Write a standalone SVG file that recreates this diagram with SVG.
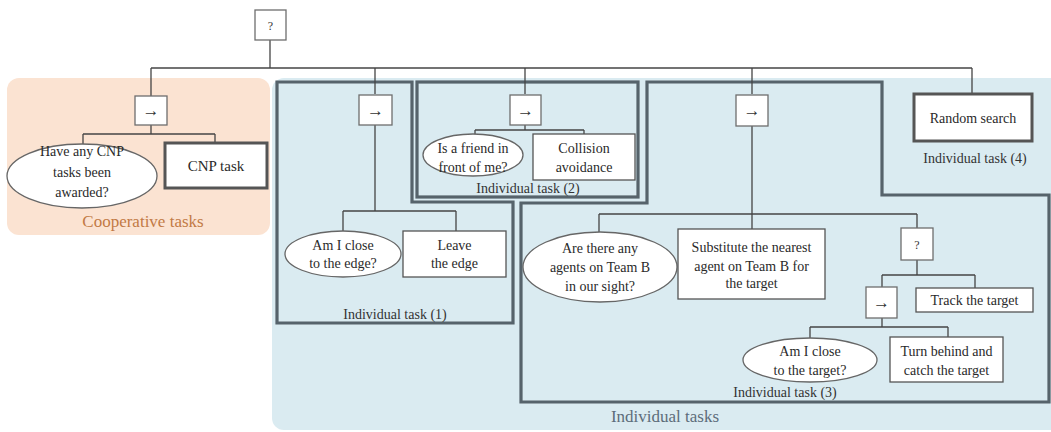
<svg xmlns="http://www.w3.org/2000/svg" width="1051" height="432" viewBox="0 0 1051 432">
<style>
text{font-family:"Liberation Serif","Times New Roman",serif;fill:#2a2a2a;text-anchor:middle}
.t{font-size:14px}
.lbl{font-size:14px;fill:#333}
.ctl{fill:#fff;stroke:#6e6e6e;stroke-width:1.3}
.act{fill:#fff;stroke:#555;stroke-width:1.3}
.thick{fill:#fff;stroke:#555;stroke-width:3}
.cond{fill:#fff;stroke:#666;stroke-width:1.3}
.grp{fill:none;stroke:#56636b;stroke-width:3.2}
.con line{stroke:#444;stroke-width:1.3}
.sym{font-size:17px;fill:#333}
.q{font-size:12px;fill:#333}
</style>
<rect x="7" y="78" width="263" height="157" rx="12" fill="#fbe3d2"/>
<rect x="272" y="78" width="790" height="352" rx="12" fill="#daebf1"/>
<text x="143" y="227" style="font-size:17px;fill:#c27a45">Cooperative tasks</text>
<text x="665" y="422" style="font-size:17px;fill:#5d6d7a">Individual tasks</text>

<g id="task1-frame"><path class="grp" d="M277,82 H412 V202 H513 V323 H277 Z"/><text class="lbl" x="395" y="319">Individual  task (1)</text></g>
<g id="task2-frame"><rect class="grp" x="417" y="82" width="221" height="115"/><text class="lbl" x="528" y="193">Individual  task (2)</text></g>
<g id="task3-frame"><path class="grp" d="M647,82 H882 V195 H1049 V402 H521 V203 H647 Z"/><text class="lbl" x="785" y="397">Individual  task (3)</text></g>
<g id="task4-label"><text class="lbl" x="975" y="163">Individual  task (4)</text></g>

<g id="connectors" class="con">
<line x1="270" y1="40" x2="270" y2="68"/>
<line x1="151" y1="68" x2="972" y2="68"/>
<line x1="151" y1="68" x2="151" y2="96"/>
<line x1="375" y1="68" x2="375" y2="94"/>
<line x1="525" y1="68" x2="525" y2="94"/>
<line x1="752" y1="68" x2="752" y2="94"/>
<line x1="972" y1="68" x2="972" y2="93"/>
<line x1="151" y1="125" x2="151" y2="134"/>
<line x1="83" y1="134" x2="215" y2="134"/>
<line x1="83" y1="134" x2="83" y2="144"/>
<line x1="215" y1="134" x2="215" y2="142"/>
<line x1="375" y1="125" x2="375" y2="211"/>
<line x1="343" y1="211" x2="456" y2="211"/>
<line x1="343" y1="211" x2="343" y2="231"/>
<line x1="456" y1="211" x2="456" y2="231"/>
<line x1="525" y1="125" x2="525" y2="130"/>
<line x1="475" y1="130" x2="584" y2="130"/>
<line x1="475" y1="130" x2="475" y2="134"/>
<line x1="584" y1="130" x2="584" y2="134"/>
<line x1="752" y1="126" x2="752" y2="229"/>
<line x1="599" y1="214" x2="917" y2="214"/>
<line x1="599" y1="214" x2="599" y2="232"/>
<line x1="917" y1="214" x2="917" y2="228"/>
<line x1="917" y1="260" x2="917" y2="275"/>
<line x1="882" y1="275" x2="975" y2="275"/>
<line x1="882" y1="275" x2="882" y2="287"/>
<line x1="975" y1="275" x2="975" y2="288"/>
<line x1="882" y1="318" x2="882" y2="327"/>
<line x1="810" y1="327" x2="948" y2="327"/>
<line x1="810" y1="327" x2="810" y2="338"/>
<line x1="948" y1="327" x2="948" y2="337"/>
</g>

<g id="root"><rect class="ctl" x="255" y="10" width="31" height="30"/><text class="q" x="270.5" y="30">?</text></g>

<g id="coop-seq"><rect class="ctl" x="135" y="96" width="32" height="29"/><text class="sym" x="151" y="116">→</text></g>
<g id="coop-cond"><ellipse class="cond" cx="82" cy="176" rx="75" ry="32"/><text class="t" x="82" y="156">Have any CNP</text><text class="t" x="82" y="177">tasks been</text><text class="t" x="82" y="197">awarded?</text></g>
<g id="cnp-task"><rect class="thick" x="165" y="143" width="102" height="45"/><text class="t" x="216" y="171" style="font-size:15px">CNP task</text></g>

<g id="t1-seq"><rect class="ctl" x="359" y="95" width="33" height="30"/><text class="sym" x="375.5" y="116">→</text></g>
<g id="t1-cond"><ellipse class="cond" cx="343" cy="254" rx="58" ry="23"/><text class="t" x="343" y="250">Am I close</text><text class="t" x="343" y="268">to the edge?</text></g>
<g id="t1-act"><rect class="act" x="403" y="231" width="103" height="46"/><text class="t" x="454.5" y="250">Leave</text><text class="t" x="454.5" y="268">the edge</text></g>

<g id="t2-seq"><rect class="ctl" x="510" y="95" width="31" height="30"/><text class="sym" x="525.5" y="116">→</text></g>
<g id="t2-cond"><ellipse class="cond" cx="473" cy="155" rx="50" ry="21"/><text class="t" x="473" y="153">Is a friend in</text><text class="t" x="473" y="172">front of me?</text></g>
<g id="t2-act"><rect class="act" x="533" y="134" width="102" height="46"/><text class="t" x="584" y="153">Collision</text><text class="t" x="584" y="172">avoidance</text></g>

<g id="t3-seq"><rect class="ctl" x="736" y="95" width="32" height="31"/><text class="sym" x="752" y="116">→</text></g>
<g id="t3-cond"><ellipse class="cond" cx="600" cy="267" rx="77" ry="35"/><text class="t" x="600" y="253">Are there any</text><text class="t" x="600" y="272">agents on Team B</text><text class="t" x="600" y="291">in our sight?</text></g>
<g id="t3-act"><rect class="act" x="678" y="229" width="147" height="70"/><text class="t" x="751.5" y="252">Substitute the nearest</text><text class="t" x="751.5" y="271">agent on Team B for</text><text class="t" x="751.5" y="288">the target</text></g>
<g id="t3-sel"><rect class="ctl" x="901" y="228" width="32" height="32"/><text class="q" x="917" y="249">?</text></g>
<g id="t3-seq2"><rect class="ctl" x="866" y="287" width="31" height="31"/><text class="sym" x="881.5" y="308">→</text></g>
<g id="t3-track"><rect class="act" x="916" y="288" width="117" height="24"/><text class="t" x="974.5" y="305">Track the target</text></g>
<g id="t3-cond2"><ellipse class="cond" cx="810" cy="360" rx="67" ry="22"/><text class="t" x="810" y="356">Am I close</text><text class="t" x="810" y="375">to the target?</text></g>
<g id="t3-catch"><rect class="act" x="890" y="337" width="113" height="45"/><text class="t" x="946.5" y="356">Turn behind and</text><text class="t" x="946.5" y="375">catch the target</text></g>

<g id="t4-act"><rect class="thick" x="914" y="94" width="118" height="47"/><text class="t" x="973" y="123">Random search</text></g>
</svg>
